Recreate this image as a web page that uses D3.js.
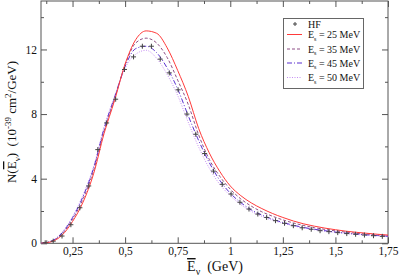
<!DOCTYPE html>
<html><head><meta charset="utf-8">
<script src="https://cdn.jsdelivr.net/npm/d3@7"></script>
<style>
html,body{margin:0;padding:0;background:#fff;}
svg{display:block;font-family:"Liberation Serif","Times New Roman",serif;}
</style></head>
<body><svg id="c" width="399" height="279"></svg>
<script>
// ---------- data ----------
const energies = [0.10,0.15,0.20,0.25,0.30,0.35,0.40,0.45,0.50,0.55,0.60,0.65,0.70,0.75,0.80,0.85,0.90,0.95,1.00,1.05,1.10,1.15,1.20,1.25,1.30,1.35,1.40,1.45,1.50,1.55,1.60,1.65,1.70,1.75];
const es25 = [0,0.10,0.50,1.35,2.55,4.30,6.80,8.85,11.10,12.60,13.15,13.00,12.10,10.70,9.10,7.10,5.60,4.45,3.55,2.95,2.50,2.15,1.85,1.60,1.38,1.20,1.06,0.94,0.84,0.75,0.68,0.62,0.56,0.51];
const es35 = [0,0.12,0.58,1.48,2.75,4.50,6.95,8.95,11.05,12.40,12.70,12.40,11.50,10.10,8.60,6.70,5.20,4.15,3.35,2.75,2.30,1.95,1.68,1.45,1.26,1.10,0.97,0.86,0.77,0.69,0.62,0.57,0.52,0.48];
const es45 = [0,0.14,0.64,1.58,2.90,4.65,7.10,9.05,10.95,12.05,12.20,11.80,10.85,9.55,7.90,6.35,5.00,3.90,3.10,2.52,2.07,1.75,1.50,1.29,1.12,0.98,0.87,0.78,0.70,0.63,0.57,0.52,0.48,0.44];
const es50 = [0,0.15,0.68,1.65,3.00,4.75,7.20,9.10,10.85,11.70,11.95,11.45,10.45,9.15,7.50,5.95,4.65,3.65,2.95,2.40,1.98,1.67,1.43,1.24,1.08,0.95,0.84,0.75,0.67,0.60,0.55,0.50,0.46,0.42];
const hfE = [0.120,0.158,0.200,0.242,0.285,0.327,0.370,0.412,0.455,0.497,0.540,0.582,0.625,0.667,0.710,0.752,0.794,0.836,0.878,0.920,0.962,1.004,1.046,1.089,1.131,1.173,1.215,1.258,1.300,1.342,1.385,1.427,1.469,1.511,1.554,1.596,1.638,1.681,1.723];
const hfN = [0.03,0.13,0.45,1.15,2.20,3.55,5.80,7.45,8.92,10.76,11.54,12.20,12.20,11.40,10.55,9.50,8.00,6.75,5.56,4.47,3.65,3.05,2.54,2.12,1.81,1.60,1.40,1.24,1.09,0.96,0.87,0.78,0.72,0.66,0.60,0.56,0.51,0.47,0.43];
const xMajor = [0.25,0.5,0.75,1,1.25,1.5,1.75];
const xMinor = [0.125,0.375,0.625,0.875,1.125,1.375,1.625];
const yMajor = [0,4,8,12];
const yMinor = [2,6,10,14];
const legendLabels = ["HF","25 MeV","35 MeV","45 MeV","50 MeV"];

// ---------- layout ----------
const svg = d3.select("#c");
const x = d3.scaleLinear().domain([0.1,1.75]).range([41,388]);
const y = d3.scaleLinear().domain([0,15]).range([243.3,1]);
const frameCol = "#555";
const serif = "'Liberation Serif','Times New Roman',serif";
const fmt = d => String(d).replace(".", ",");

// frame
svg.append("rect").attr("x",x.range()[0]).attr("y",y.range()[1])
  .attr("width",x.range()[1]-x.range()[0]).attr("height",y.range()[0]-y.range()[1])
  .attr("fill","none").attr("stroke",frameCol).attr("stroke-width",1);

function styleAxis(g){
  g.attr("font-family",serif).attr("font-size",11.5);
  g.select(".domain").remove();
  g.selectAll(".tick line").attr("stroke",frameCol);
  g.selectAll(".tick text").attr("fill","#111");
}
// bottom
svg.append("g").attr("transform",`translate(0,${y(0)})`)
  .call(d3.axisBottom(x).tickValues(xMajor).tickSize(-6).tickPadding(4).tickFormat(fmt)).call(styleAxis);
svg.append("g").attr("transform",`translate(0,${y(0)})`)
  .call(d3.axisBottom(x).tickValues(xMinor).tickSize(-3).tickFormat("")).call(styleAxis);
// top
svg.append("g").attr("transform",`translate(0,${y(15)})`)
  .call(d3.axisTop(x).tickValues(xMajor).tickSize(-6).tickFormat("")).call(styleAxis);
svg.append("g").attr("transform",`translate(0,${y(15)})`)
  .call(d3.axisTop(x).tickValues(xMinor).tickSize(-3).tickFormat("")).call(styleAxis);
// left
svg.append("g").attr("transform",`translate(${x(0.1)},0)`)
  .call(d3.axisLeft(y).tickValues(yMajor).tickSize(-6).tickPadding(4).tickFormat(fmt)).call(styleAxis);
svg.append("g").attr("transform",`translate(${x(0.1)},0)`)
  .call(d3.axisLeft(y).tickValues(yMinor).tickSize(-3).tickFormat("")).call(styleAxis);
// right
svg.append("g").attr("transform",`translate(${x(1.75)},0)`)
  .call(d3.axisRight(y).tickValues(yMajor).tickSize(-6).tickFormat("")).call(styleAxis);
svg.append("g").attr("transform",`translate(${x(1.75)},0)`)
  .call(d3.axisRight(y).tickValues(yMinor).tickSize(-3).tickFormat("")).call(styleAxis);

// ---------- series ----------
const series = [
  {vals:es25, color:"#ff3a3a", dash:null},
  {vals:es35, color:"#8e4f86", dash:"3,2"},
  {vals:es45, color:"#5a30d0", dash:"5,2,1,2"},
  {vals:es50, color:"#c58cf2", dash:"1,1.5"}
];
const line = d3.line().x(d=>x(d[0])).y(d=>y(d[1])).curve(d3.curveMonotoneX);
svg.append("defs").append("clipPath").attr("id","pc").append("rect")
  .attr("x",x(0.1)).attr("y",y(15)).attr("width",x(1.75)-x(0.1)).attr("height",y(0)-y(15));
const plot = svg.append("g").attr("clip-path","url(#pc)");
series.slice().reverse().forEach(s=>{
  plot.append("path").datum(energies.map((e,i)=>[e,s.vals[i]]))
    .attr("d",line).attr("fill","none").attr("stroke",s.color).attr("stroke-width",1)
    .attr("stroke-dasharray",s.dash);
});
// HF markers
const hf = hfE.map((e,i)=>[e,hfN[i]]);
plot.selectAll("path.hf").data(hf).enter().append("path").attr("class","hf")
  .attr("transform",d=>`translate(${x(d[0])},${y(d[1])})`)
  .attr("d","M-2.5,0H2.5M0,-2.5V2.5").attr("stroke","#444").attr("stroke-width",1).attr("fill","none");

// ---------- legend ----------
const lg = svg.append("g").attr("font-family",serif);
lg.append("rect").attr("x",283.5).attr("y",18.5).attr("width",80).attr("height",70)
  .attr("fill","#fff").attr("stroke","#666").attr("stroke-width",1);
const rowY = [24,34.5,49,63,77.5];
lg.append("path").attr("transform",`translate(295,${rowY[0]})`).attr("d","M-2,0H2M0,-2V2")
  .attr("stroke","#444").attr("fill","none");
series.forEach((s,i)=>{
  lg.append("line").attr("x1",287).attr("x2",302).attr("y1",rowY[i+1]).attr("y2",rowY[i+1])
    .attr("stroke",s.color).attr("stroke-width",1).attr("stroke-dasharray",s.dash);
});
legendLabels.forEach((t,i)=>{
  const tx = lg.append("text").attr("x",308).attr("y",rowY[i]+3.5).attr("font-size",10).attr("fill","#111");
  if(i===0){ tx.text(t); }
  else {
    tx.append("tspan").text("E");
    tx.append("tspan").attr("dy",2.5).attr("font-size",6).text("s");
    tx.append("tspan").attr("dy",-2.5).text(" = "+t);
  }
});

// ---------- axis labels ----------
const xl = svg.append("text").attr("x",215).attr("y",271).attr("text-anchor","middle")
  .attr("font-family",serif).attr("font-size",14).attr("fill","#111").attr("xml:space","preserve");
xl.append("tspan").style("text-decoration","overline").text("E");
xl.append("tspan").attr("dy",4).attr("font-size",10).text("ν");
xl.append("tspan").attr("dy",-4).text("  (GeV)");

const yl = svg.append("text").attr("transform","translate(16,122) rotate(-90)").attr("text-anchor","middle")
  .attr("font-family",serif).attr("font-size",13).attr("fill","#111").attr("xml:space","preserve");
yl.append("tspan").text("N(");
yl.append("tspan").style("text-decoration","overline").text("E");
yl.append("tspan").attr("dy",3.5).attr("font-size",9).text("ν");
yl.append("tspan").attr("dy",-3.5).text(")  (10");
yl.append("tspan").attr("dy",-5).attr("font-size",9).text("-39");
yl.append("tspan").attr("dy",5).text(" cm");
yl.append("tspan").attr("dy",-5).attr("font-size",9).text("2");
yl.append("tspan").attr("dy",5).text("/GeV)");
</script></body></html>
